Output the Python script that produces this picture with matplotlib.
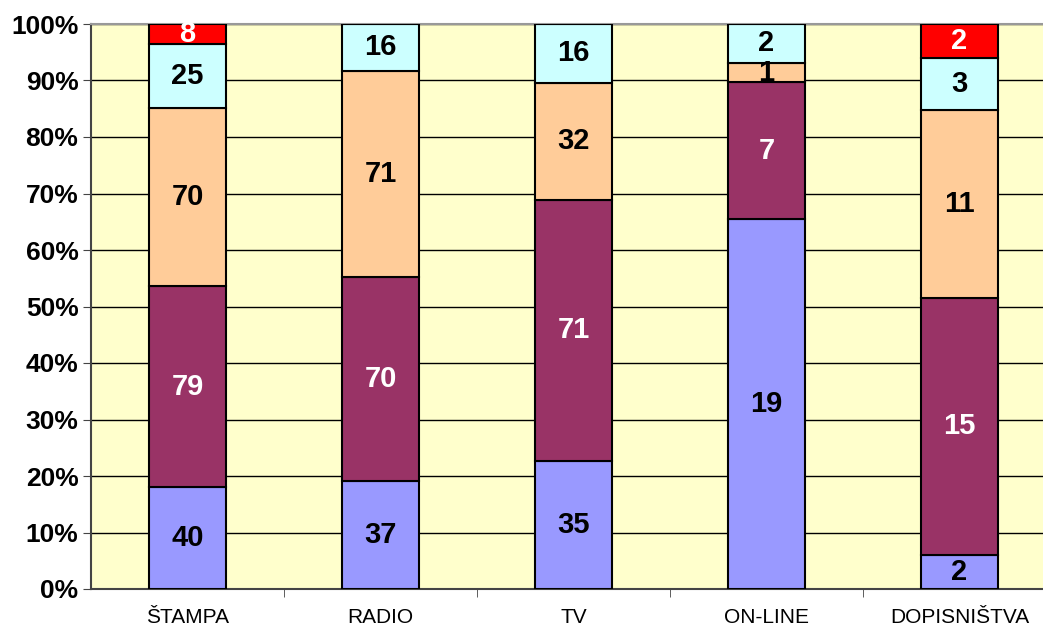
import numpy as np
import matplotlib.pyplot as plt

categories = ["ŠTAMPA", "RADIO", "TV", "ON-LINE", "DOPISNIŠTVA"]
s1 = [40, 37, 35, 19, 2]
s2 = [79, 70, 71, 7, 15]
s3 = [70, 71, 32, 1, 11]
s4 = [25, 16, 16, 2, 3]
s5 = [8, 0, 0, 0, 2]

series = [s1, s2, s3, s4, s5]
colors = ["#9999FF", "#993366", "#FFCC99", "#CCFFFF", "#FF0000"]
text_colors = ["black", "white", "black", "black", "white"]

plt.rcParams['font.family'] = ['Liberation Sans', 'DejaVu Sans']

data = np.array(series, dtype=float)
totals = data.sum(axis=0)
pct = data / totals * 100

fig = plt.figure(figsize=(10.43, 6.28), dpi=100)
ax = fig.add_axes([91 / 1043, 39 / 628, 965 / 1043, 565 / 628])
ax.set_facecolor("#FFFFCC")

x = np.arange(len(categories))
bottom = np.zeros(len(categories))
for vals, p, col, tc in zip(series, pct, colors, text_colors):
    ax.bar(x, p, 0.4, bottom=bottom, color=col, edgecolor="black", linewidth=1.5, zorder=3)
    for i in range(len(categories)):
        if vals[i] > 0:
            ax.text(x[i], bottom[i] + p[i] / 2, str(vals[i]), ha="center", va="center",
                    fontsize=21, fontweight="bold", color=tc, zorder=4)
    bottom += p

ax.set_xlim(-0.5, 4.5)
ax.set_ylim(0, 100)
ax.set_yticks(np.arange(0, 101, 10))
ax.set_yticklabels([f"{v}%" for v in range(0, 101, 10)], fontsize=19, fontweight="bold")
ax.yaxis.grid(True, color="black", linewidth=1, zorder=0)
ax.set_axisbelow(True)

ax.set_xticks(x)
ax.set_xticklabels(categories, fontsize=15)
ax.set_xticks(np.arange(0.5, 4.5, 1), minor=True)
ax.tick_params(axis="x", which="major", length=0, pad=14)
ax.tick_params(axis="x", which="minor", length=6, direction="out", color="#444444")
ax.tick_params(axis="y", length=6, direction="out", color="#444444", pad=3)

ax.spines["right"].set_visible(False)
ax.spines["top"].set_color("#999999")
ax.spines["top"].set_linewidth(1.5)
ax.spines["left"].set_color("#444444")
ax.spines["left"].set_linewidth(1.5)
ax.spines["bottom"].set_color("#444444")
ax.spines["bottom"].set_linewidth(1.5)

fig.savefig("out.png", dpi=100)
